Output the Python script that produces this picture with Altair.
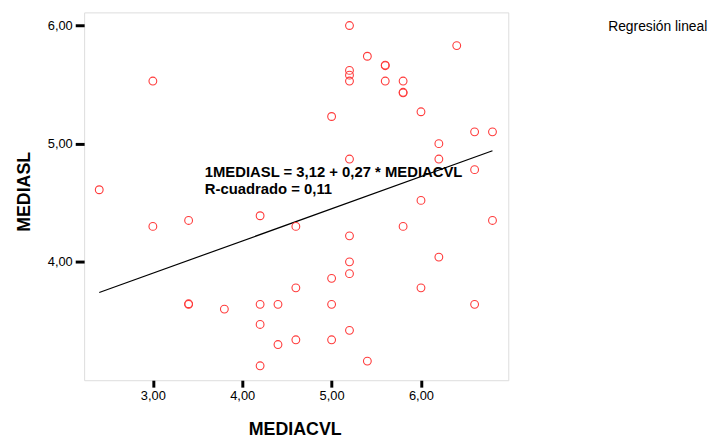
import altair as alt
import pandas as pd

# Scatter data
mediacvl = [2.4, 3.0, 3.0, 3.4, 3.4, 3.4, 3.8, 4.2, 4.2, 4.2, 4.2, 4.4, 4.4,
            4.6, 4.6, 4.6, 5.0, 5.0, 5.0, 5.0, 5.2, 5.2, 5.2, 5.2, 5.2, 5.2,
            5.2, 5.2, 5.2, 5.4, 5.4, 5.6, 5.6, 5.6, 5.8, 5.8, 5.8, 5.8, 6.0,
            6.0, 6.0, 6.2, 6.2, 6.2, 6.4, 6.6, 6.6, 6.6, 6.8, 6.8]
mediasl = [4.61, 5.53, 4.30, 4.35, 3.64, 3.645, 3.60, 4.39, 3.64, 3.47, 3.12, 3.64, 3.30,
           4.30, 3.78, 3.34, 5.23, 3.86, 3.64, 3.34, 6.00, 5.62, 5.58, 5.53, 4.87, 4.22,
           4.00, 3.90, 3.42, 5.74, 3.16, 5.66, 5.665, 5.53, 5.53, 5.43, 5.435, 4.30, 5.27,
           4.52, 3.78, 5.00, 4.87, 4.04, 5.83, 5.10, 4.78, 3.64, 5.10, 4.35]

# Fitted line end points
line_x = [2.4, 6.8]
line_y = [3.74, 4.94]

x_ticks = [3, 4, 5, 6]
y_ticks = [4, 5, 6]

equation = "1MEDIASL = 3,12 + 0,27 * MEDIACVL"
r2_text = "R-cuadrado = 0,11"
legend_text = "Regresión lineal"

FONT = "Liberation Sans"

pts = pd.DataFrame({"MEDIACVL": mediacvl, "MEDIASL": mediasl})
ln = pd.DataFrame({"MEDIACVL": line_x, "MEDIASL": line_y})

xscale = alt.Scale(domain=[2.231, 6.977], nice=False, zero=False)
yscale = alt.Scale(domain=[2.998, 6.111], nice=False, zero=False)

lbl = "replace(format(datum.value, '.2f'), '.', ',')"

xaxis = alt.Axis(values=x_ticks, labelExpr=lbl, grid=False, domain=False,
                 tickSize=7, tickWidth=3, tickColor="black", labelPadding=3,
                 labelFont=FONT, labelFontSize=13, labelColor="black",
                 title="MEDIACVL", titleFont=FONT, titleFontSize=18,
                 titleFontWeight="bold", titleColor="black",
                 titleX=213, titleY=55, titleAlign="center",
                 titleBaseline="alphabetic")
yaxis = alt.Axis(values=y_ticks, labelExpr=lbl, grid=False, domain=False,
                 tickSize=9, tickWidth=3, tickColor="black", labelPadding=3,
                 labelFont=FONT, labelFontSize=13, labelColor="black",
                 title="MEDIASL", titleFont=FONT, titleFontSize=18,
                 titleFontWeight="bold", titleColor="black",
                 titleX=-60, titleY=181, titleAlign="center",
                 titleBaseline="middle", titleAngle=-90)

line = alt.Chart(ln).mark_line(color="black", strokeWidth=1.2).encode(
    x=alt.X("MEDIACVL:Q", scale=xscale, axis=xaxis),
    y=alt.Y("MEDIASL:Q", scale=yscale, axis=yaxis),
)

points = alt.Chart(pts).mark_point(shape="circle", filled=False, color="#ff3b3b",
                                   size=62, strokeWidth=1.1, opacity=1).encode(
    x=alt.X("MEDIACVL:Q", scale=xscale, axis=xaxis),
    y=alt.Y("MEDIASL:Q", scale=yscale, axis=yaxis),
)

ann_df = pd.DataFrame({"t": [equation]})
eq = alt.Chart(ann_df).mark_text(align="left", baseline="middle", font=FONT,
                                 fontSize=15, fontWeight="bold", color="black").encode(
    x=alt.value(122), y=alt.value(161.7), text="t:N")

r2_df = pd.DataFrame({"t": [r2_text]})
r2 = alt.Chart(r2_df).mark_text(align="left", baseline="middle", font=FONT,
                                fontSize=15, fontWeight="bold", color="black").encode(
    x=alt.value(122), y=alt.value(178.3), text="t:N")

chart = alt.layer(line, points, eq, r2).properties(
    width=429, height=372,
    padding={"left": 77, "top": 2, "right": 204, "bottom": 57},
    autosize=alt.AutoSizeParams(type="none"),
    title=alt.TitleParams(legend_text, anchor="start", orient="top", frame="group",
                          dx=530, dy=33, offset=0, baseline="alphabetic",
                          font=FONT, fontSize=14, fontWeight="normal", color="black"),
).configure_view(stroke="#5a5a5a", strokeWidth=1.3).configure(background="white")

chart.save("out.html", embed_options={"renderer": "svg", "actions": False})
